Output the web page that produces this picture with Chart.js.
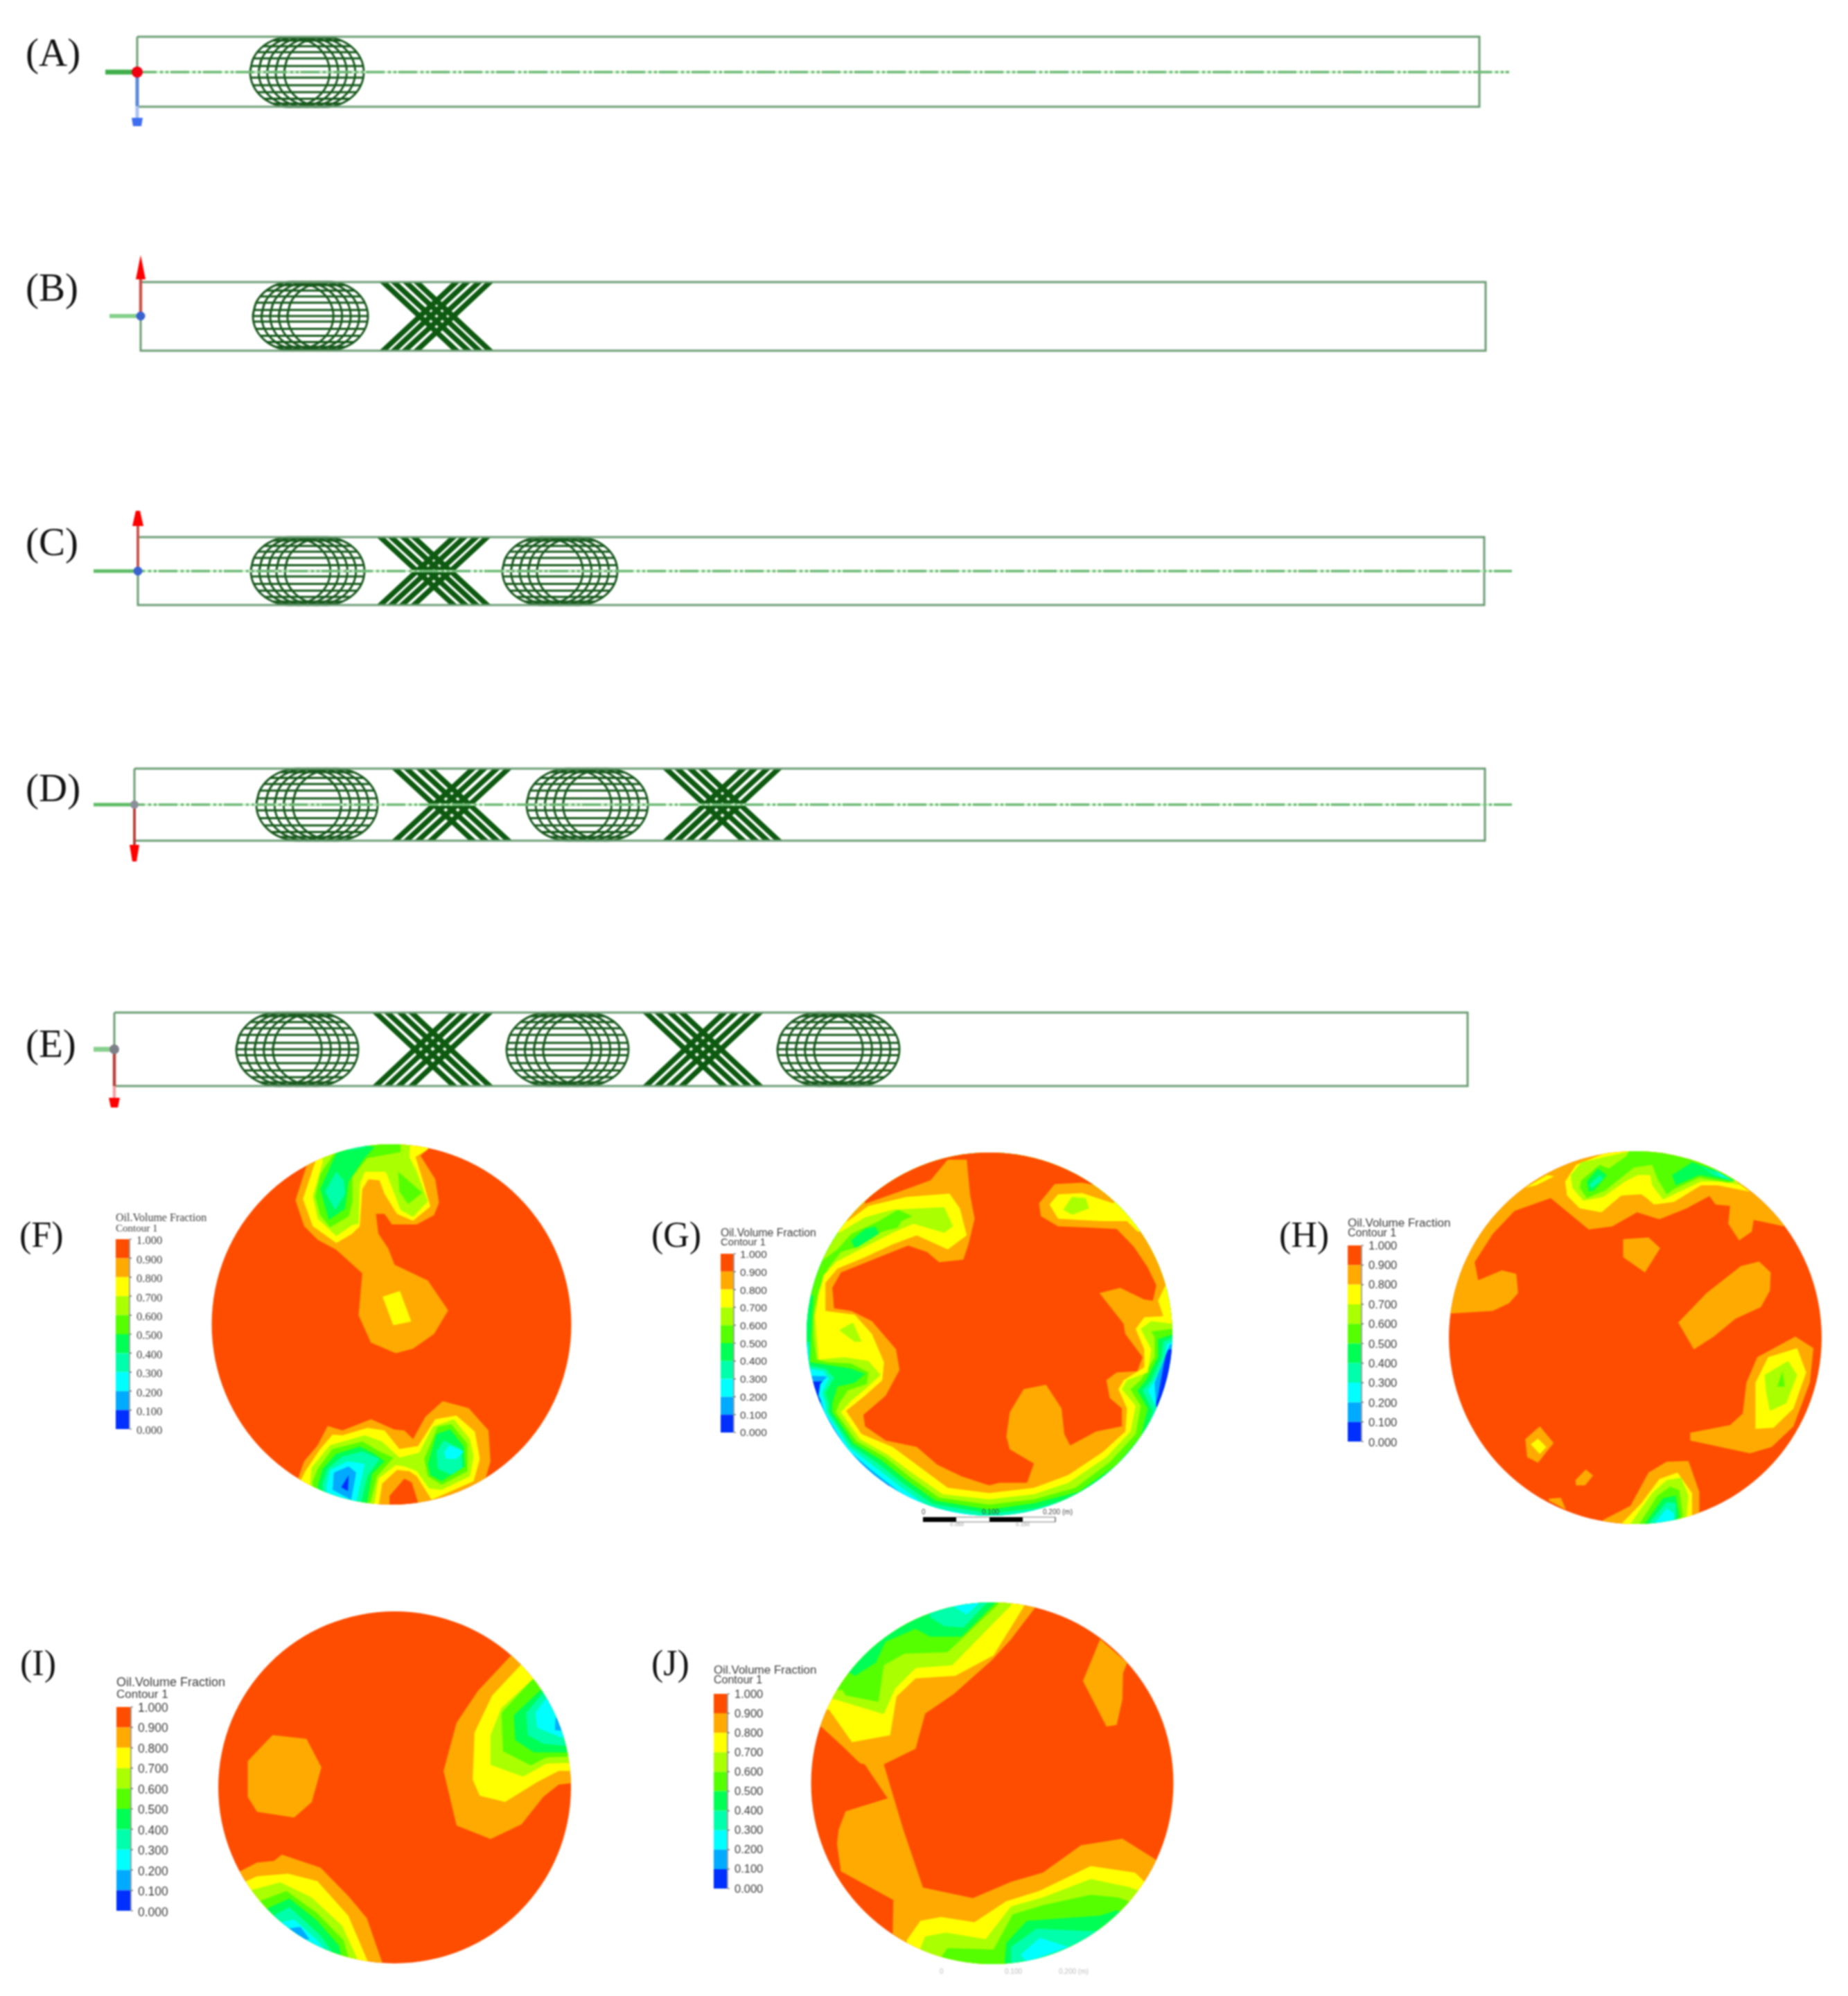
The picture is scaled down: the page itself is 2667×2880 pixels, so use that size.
<!DOCTYPE html>
<html><head><meta charset="utf-8">
<style>html,body{margin:0;padding:0;background:#fff}canvas{display:block;filter:blur(0.8px)}</style>
<script src="https://cdn.jsdelivr.net/npm/chart.js@4/dist/chart.umd.js"></script>
</head><body><canvas id="c" width="2667" height="2880"></canvas>
<script>
// ---------- data ----------
const bandColors=['#ff4d00','#ffaa00','#ffff00','#aaff00','#55ff00','#00ff55','#00ffaa','#00ffff','#00aaff','#0030ff'];
const tickLabels=['1.000','0.900','0.800','0.700','0.600','0.500','0.400','0.300','0.200','0.100','0.000'];
const legendTitle='Oil.Volume Fraction', legendSub='Contour 1';

// pipes: left,right,top,bottom,centre
const pipeA=[198,2135,53,154,104], pipeB=[203,2144,407,506,456], pipeC=[199,2142,775,873,824], pipeD=[194,2143,1109,1213,1161], pipeE=[165,2118,1461,1567,1514];
// mixers: [left,right] on each pipe
const ringsA=[[361,525]], ringsB=[[365,531]], ringsC=[[362,526],[725,891]], ringsD=[[370,545],[760,935]], ringsE=[[341,517],[731,907],[1122,1298]];
const crossB=[[548,712]], crossC=[[544,708]], crossD=[[565,739],[956,1129]], crossE=[[537,712],[927,1102]];
const centreLines=[[152,2178,104],[135,2182,824],[135,2182,1161]];
// ring outline and lattice proportions
const UNIT_RING=[[-1,0],[-.924,-.383],[-.707,-.707],[-.383,-.924],[0,-1],[.383,-.924],[.707,-.707],[.924,-.383],[1,0],[.924,.383],[.707,.707],[.383,.924],[0,1],[-.383,.924],[-.707,.707],[-.924,.383],[-1,0],[-.924,-.383]];
const ringShifts=[-.3,-.15,0,.15,.3], ringSpan=.7;
const chordRows=[[-.9,.605],[-.74,.77],[-.57,.875],[-.39,.945],[-.175,.99],[0,1],[.16,.99],[.375,.95],[.575,.875],[.76,.76],[.9,.605]];
const crossTop=[.03,.125,.23,.325], crossBottom=[.676,.78,.876,.97];

// contour panels: ellipse
const panelF={cx:565,cy:1911,rx:259.5,ry:260}, panelG={cx:1428,cy:1925,rx:264,ry:262}, panelH={cx:2360,cy:1930,rx:269,ry:269}, panelI={cx:569.5,cy:2579,rx:254.5,ry:254}, panelJ={cx:1432,cy:2573,rx:261.5,ry:261};
// reading frames of the contour outlines
const frameF=[280,1630,2.8,2.8], frameG=[930,1640,2.01,2.703], frameH=[1830,1640,1.912,2.703], frameI=[150,2300,2.24,2.8], frameJ=[1000,2290,2.178,2.658];
// band index (0 = 0.9-1.0 ... 9 = 0-0.1), outline
const regionsF=[[0,[]],
[1,[455,145,410,285,445,390,500,445,575,485,680,580,665,750,715,860,815,903,885,885,970,825,1027,730,945,610,810,545,785,480,745,420,735,340,770,340,800,383,900,383,970,345,990,295,975,200,915,105,950,75,950,20,455,20]],
[1,[420,1410,445,1340,500,1275,540,1197,600,1215,715,1170,810,1212,850,1215,885,1250,935,1160,1005,1097,1110,1125,1190,1215,1198,1340,1175,1420,1150,1520,420,1520]],
[2,[490,130,440,280,480,390,575,458,640,420,670,390,680,240,705,200,750,205,770,260,820,340,885,368,955,310,920,190,895,110,945,80,945,30,490,30]],
[2,[762,675,832,652,878,775,805,790]],
[2,[430,1420,450,1380,510,1290,560,1232,600,1235,700,1205,770,1215,830,1290,905,1278,975,1170,1060,1155,1135,1220,1155,1330,1130,1420,960,1495,900,1400,870,1380,820,1375,760,1430,745,1530,430,1530]],
[0,[790,1480,850,1410,880,1425,905,1505,905,1530,790,1530]],
[3,[520,130,480,270,500,360,575,430,640,385,665,380,670,220,690,170,775,170,810,260,835,325,885,352,945,290,900,170,870,110,875,40,520,40]],
[3,[470,1420,475,1365,550,1275,690,1235,760,1260,830,1325,910,1305,965,1200,1050,1170,1115,1250,1130,1320,1115,1400,1000,1455,950,1450,900,1380,850,1360,815,1355,745,1410,725,1530,470,1530]],
[4,[570,90,510,180,490,270,510,345,550,395,625,350,640,290,640,190,700,115,835,90,835,40,570,40]],
[4,[825,170,922,255,865,300,830,250]],
[4,[480,1420,500,1370,560,1290,680,1260,750,1300,805,1325,740,1400,705,1530,480,1530]],
[4,[930,1330,985,1200,1040,1190,1105,1270,1105,1380,1000,1435,945,1400]],
[5,[575,95,510,240,545,365,610,320,625,210,685,120,730,70,600,40]],
[5,[500,1440,520,1370,575,1310,670,1280,730,1310,770,1340,720,1390,695,1530,500,1530]],
[5,[945,1350,980,1230,1035,1210,1090,1280,1095,1360,1000,1420,955,1395]],
[6,[575,170,530,250,570,325,610,260,605,205]],
[6,[640,30,760,30,690,72,620,85]],
[6,[520,1430,540,1370,600,1320,680,1300,750,1330,700,1400,670,1530,520,1530]],
[6,[980,1300,1010,1255,1080,1290,1085,1365,1040,1395,985,1370]],
[7,[535,1440,550,1375,620,1340,690,1350,650,1530,535,1530]],
[7,[1010,1305,1030,1275,1090,1300,1060,1330,1020,1330]],
[8,[565,1385,625,1360,655,1385,635,1495,560,1455]],
[9,[595,1445,625,1395,622,1460]]];
const regionsG=[[8,[]],
[9,[470,955,525,955,510,1040,440,1040]],
[9,[585,1240,650,1315,710,1360,700,1400,560,1300]],
[9,[1515,830,1560,830,1560,950,1465,1130,1490,1010]],
[7,[420,930,530,935,510,965,505,1010,515,1040,522,1075,588,1220,658,1300,732,1378,815,1455,830,1520,1300,1520,1450,1360,1470,1180,1485,1060,1480,960,1510,860,1525,810,1600,810,1600,0,420,0]],
[6,[420,815,475,815,478,905,520,915,535,945,515,1000,525,1040,528,1075,594,1212,668,1288,742,1365,825,1445,1000,1485,1130,1470,1280,1420,1400,1310,1460,1210,1490,1070,1460,990,1485,940,1510,860,1515,810,1540,795,1600,795,1600,0,420,0]],
[5,[420,800,480,800,480,895,525,905,550,940,525,1000,535,1040,535,1075,600,1205,678,1275,750,1352,835,1432,1000,1470,1130,1450,1270,1400,1385,1295,1450,1190,1475,1070,1445,990,1470,950,1500,860,1505,800,1540,780,1600,780,1600,0,420,0]],
[4,[430,600,490,620,485,750,480,880,530,890,600,905,640,925,610,960,560,975,545,1040,545,1075,607,1196,688,1262,760,1340,845,1420,1000,1455,1130,1430,1260,1385,1370,1280,1440,1170,1460,1060,1430,990,1455,950,1490,860,1490,790,1535,770,1600,770,1600,0,430,0]],
[5,[600,405,640,360,670,350,690,405,610,435]],
[3,[440,480,510,490,560,440,600,380,680,330,735,285,777,310,745,330,735,355,690,370,620,430,570,450,535,510,505,600,490,700,490,780,500,870,530,880,600,885,650,920,645,965,590,990,565,1040,555,1075,615,1188,698,1250,770,1328,855,1408,1000,1435,1130,1415,1250,1370,1350,1270,1425,1160,1440,1050,1410,985,1440,950,1480,860,1480,780,1470,760,1530,750,1600,750,1600,0,440,0]],
[2,[450,350,565,375,640,315,720,285,870,275,895,350,870,375,780,340,720,375,625,440,555,490,520,540,505,620,495,700,505,870,580,860,650,875,685,930,640,985,600,1030,570,1075,625,1180,705,1240,780,1315,865,1395,1000,1415,1130,1395,1230,1350,1340,1250,1410,1150,1425,1050,1385,985,1400,950,1460,920,1470,830,1440,750,1470,720,1530,730,1600,730,1600,0,450,0]],
[3,[565,755,605,725,630,800,610,800]],
[3,[1215,285,1240,235,1280,240,1290,280,1240,305]],
[1,[590,330,650,270,760,235,885,222,915,280,935,385,880,440,790,385,720,420,640,470,560,515,525,570,525,680,610,695,660,770,695,880,690,950,640,1010,585,1070,630,1160,720,1210,800,1290,880,1370,1000,1390,1130,1370,1230,1320,1330,1230,1395,1150,1400,1060,1375,985,1390,950,1450,900,1450,830,1425,750,1450,705,1505,700,1490,640,1515,570,1600,570,1600,380,1430,370,1400,330,1330,330,1260,325,1200,320,1175,265,1200,225,1270,220,1360,260,1400,200,1400,0,500,0,500,300]],
[0,[640,262,760,205,830,170,880,90,935,90,945,230,958,320,940,420,925,480,855,490,820,450,765,425,690,465,570,530,545,590,550,670,600,680,660,720,730,830,740,910,700,1010,635,1085,640,1130,700,1185,790,1210,850,1280,920,1325,1000,1360,1030,1350,1110,1350,1130,1275,1060,1220,1050,1170,1060,1075,1100,985,1165,968,1210,1060,1218,1160,1235,1205,1310,1150,1385,1130,1385,1060,1350,1020,1340,950,1370,920,1430,915,1445,860,1395,770,1390,730,1320,610,1380,590,1450,635,1475,640,1485,580,1460,510,1420,430,1370,360,1290,355,1200,350,1150,310,1145,260,1190,185,1270,180,1310,190,1300,20,640,20]]];
const regionsH=[[0,[]],
[1,[505,690,620,680,665,650,690,610,685,535,645,522,580,560,570,490,620,380,680,290,780,240,885,362,950,350,1018,295,1080,322,1155,280,1218,232,1235,265,1275,270,1270,340,1300,405,1335,370,1340,325,1425,350,1500,300,1300,0,800,0,400,300,400,690]],
[1,[980,400,1050,393,1082,435,1040,530,980,470]],
[1,[1132,725,1210,610,1305,505,1355,487,1387,530,1385,600,1360,665,1290,710,1230,780,1175,830]],
[1,[1165,1155,1275,1125,1310,1080,1320,960,1350,860,1455,780,1505,825,1495,960,1450,1130,1390,1210,1330,1235,1165,1185]],
[1,[710,1180,750,1130,788,1195,745,1272,715,1250]],
[1,[848,1340,877,1298,897,1322,875,1360,850,1360]],
[1,[775,1412,808,1408,822,1455,775,1420]],
[1,[925,1495,1000,1440,1050,1310,1100,1268,1160,1265,1190,1385,1190,1470,1100,1560,925,1560]],
[2,[820,175,850,110,990,30,1180,30,1300,185,1330,215,1240,190,1195,190,1120,255,1065,265,1045,240,1030,225,975,230,920,295,860,280,825,230]],
[2,[710,200,770,150,790,155,740,190]],
[2,[1345,1140,1345,960,1380,860,1460,825,1485,920,1450,1060,1395,1135]],
[2,[725,1200,745,1178,768,1210,750,1238]],
[2,[975,1510,1030,1430,1080,1335,1130,1310,1170,1390,1170,1480,1100,1560,975,1560]],
[3,[835,150,865,100,990,60,1165,100,1310,190,1250,175,1195,175,1120,225,1090,245,1060,190,1055,150,1020,150,985,175,925,235,870,250,840,200]],
[3,[1370,930,1435,875,1460,930,1430,1040,1385,1070,1375,1000]],
[3,[1000,1510,1060,1390,1100,1340,1140,1330,1160,1400,1155,1480,1100,1560,1000,1560]],
[4,[865,170,915,110,940,125,990,75,1000,40,1170,40,1290,170,1270,180,1190,160,1120,205,1100,225,1075,165,1060,110,1010,120,930,210,880,240,860,200]],
[4,[1405,975,1420,915,1425,975]],
[4,[1025,1510,1075,1400,1110,1365,1135,1380,1145,1480,1100,1560,1025,1560]],
[5,[880,175,910,125,935,150,900,210,885,215]],
[5,[1115,150,1170,100,1230,130,1290,175,1190,150,1125,190]],
[5,[1040,1510,1090,1410,1125,1400,1135,1480,1100,1560,1040,1560]],
[6,[885,190,915,150,925,165,895,200]],
[6,[1190,110,1285,175,1230,150]],
[6,[1055,1500,1100,1425,1125,1430,1125,1560,1055,1560]],
[7,[1225,125,1280,170,1250,155]],
[7,[1065,1510,1100,1450,1120,1470,1120,1560,1065,1560]]];
const regionsI=[[0,[]],
[1,[1315,250,1210,390,1140,520,1098,715,1140,935,1250,990,1350,930,1420,820,1470,770,1530,762,1600,762,1600,250,1350,200]],
[1,[545,570,655,585,703,700,672,840,615,903,495,880,465,820,465,675]],
[1,[440,1120,495,1085,550,1078,575,1053,700,1105,790,1220,850,1310,900,1490,900,1560,800,1560,300,1300]],
[2,[1345,290,1255,410,1198,560,1192,750,1215,815,1297,840,1400,760,1470,715,1550,715,1550,200,1400,200]],
[2,[460,1160,495,1140,595,1130,690,1160,790,1300,855,1490,855,1560,700,1560,350,1300]],
[3,[1385,345,1285,460,1250,570,1250,690,1355,738,1430,685,1550,680,1550,300]],
[3,[480,1195,570,1165,670,1225,770,1340,825,1490,825,1560,700,1560,350,1300]],
[4,[1385,345,1285,480,1290,635,1380,692,1430,660,1550,655,1550,300]],
[4,[505,1240,590,1200,690,1290,775,1400,795,1490,795,1560,600,1560,400,1300]],
[5,[1410,390,1325,490,1330,590,1390,640,1550,640,1550,300]],
[5,[520,1275,600,1230,690,1320,760,1420,770,1480,770,1560,600,1560,400,1320]],
[6,[1420,400,1365,480,1370,570,1420,605,1550,620,1550,300]],
[6,[545,1300,600,1265,700,1380,740,1450,730,1560,600,1560,450,1350]],
[7,[1430,420,1395,480,1400,540,1480,580,1550,590,1550,300]],
[7,[575,1325,615,1315,690,1400,720,1445,650,1560,500,1400]],
[8,[1460,500,1458,550,1490,552,1550,550,1550,480]],
[8,[600,1350,635,1345,665,1395,550,1400]]];
const regionsJ=[[0,[]],
[1,[403,535,470,610,525,675,540,680,612,810,480,860,458,930,453,985,465,1090,630,1200,628,1330,672,1370,700,1600,1500,1600,1455,1045,1350,965,1220,990,1100,1095,1000,1130,880,1193,723,1152,660,925,600,680,700,620,730,485,820,410,940,280,1000,200,1075,80,1100,0,300,0,300,535]],
[1,[1280,200,1365,290,1352,330,1350,430,1332,528,1300,535,1226,360]],
[2,[428,470,500,595,620,568,640,420,700,350,825,340,945,262,1040,75,1040,0,300,0,300,470]],
[2,[672,1355,715,1280,780,1265,885,1285,985,1205,1090,1165,1250,1070,1390,1095,1420,1130,1600,1200,1500,1600,700,1600]],
[3,[445,430,600,487,635,390,700,310,815,300,1000,70,1000,0,300,0,300,420]],
[3,[715,1385,730,1340,795,1325,920,1350,1000,1225,1100,1190,1250,1120,1370,1150,1600,1250,1500,1600,800,1600]],
[4,[470,395,480,415,583,440,600,300,665,255,800,250,960,65,960,0,300,0,300,395]],
[4,[780,1420,800,1385,945,1390,1005,1255,1100,1220,1250,1180,1335,1190,1600,1300,1500,1600,850,1600]],
[5,[495,330,510,340,575,290,605,210,700,160,745,190,845,190,950,62,950,0,300,0,300,330]],
[5,[980,1440,985,1365,1050,1280,1280,1260,1330,1240,1600,1300,1500,1600,980,1600]],
[6,[745,115,790,150,850,155,925,60,925,0,740,0]],
[6,[1000,1380,1080,1310,1250,1320,1400,1300,1500,1600,1000,1600]],
[7,[820,75,860,105,900,62,900,0,820,0]],
[7,[1030,1410,1090,1345,1180,1380,1090,1420,1050,1440]]];

// ---------- layout ----------
const panelLabels=[['(A)',37,80,57],['(B)',37,419,57],['(C)',37,786,57],['(D)',37,1141,57],['(E)',37,1510,57],['(F)',28,1785,52],['(G)',940,1785,52],['(H)',1846,1785,52],['(I)',29,2403,52],['(J)',940,2403,52]];
// x, titleY, subY, barRight, barTop, barBottom, tickX, tickTopY, tickBottomY, titleSize, tickSize, family
const legendF=[167,1758,1773,187,1788,2062,197,1791,2065,16,16.5,'"Liberation Serif"'];
const legendG=[1040,1780,1793,1059,1809,2067,1068,1811,2068,15.8,15.5,'"Liberation Sans"'];
const legendH=[1945,1765,1780,1965,1797,2080,1975,1798,2082,17,16.5,'"Liberation Sans"'];
const legendI=[168,2428,2445,189,2463,2757,199,2465,2760,18,17.5,'"Liberation Sans"'];
const legendJ=[1030,2410,2425,1050,2444,2725,1060,2445,2726,17,16.5,'"Liberation Sans"'];
const scaleBarG=[1332,1380,1428,1476,1523,2189,2196];

// ---------- build datasets ----------
const xy=(x,y)=>({x,y}), gap=()=>({x:null,y:null});
const sets=[];
function poly(points,color,panel){sets.push({data:points,borderColor:'rgba(0,0,0,0)',borderWidth:0,backgroundColor:color,fill:'shape',pointRadius:0,tension:0,clipPanel:panel||null});}
function stroke(points,color,width,opts){sets.push(Object.assign({data:points,borderColor:color,borderWidth:width,pointRadius:0,fill:false,tension:0,spanGaps:false},opts||{}));}
function flat(f,frame){const p=[];for(let i=0;i<f.length;i+=2)p.push(xy(frame[0]+f[i]/frame[2],frame[1]+f[i+1]/frame[3]));return p;}

function pipe(p){const[l,r,t,b]=p;stroke([xy(l,t),xy(r,t),xy(r,b),xy(l,b),xy(l,t)],'#6b9c74',3);}
function rings(list,p){const[, ,t,b,c]=p;const pts=[],ch=[];
 list.forEach(([l,r])=>{const m=(l+r)/2,h=(r-l)/2,v=(b-t)/2;
  ringShifts.forEach(s=>{UNIT_RING.forEach(u=>pts.push(xy(m+s*h+u[0]*h*ringSpan,c+u[1]*v)));pts.push(gap());});
  chordRows.forEach(([f,hw])=>{ch.push(xy(m-hw*h,c+f*v),xy(m+hw*h,c+f*v),gap());});});
 stroke(pts,'#1c5c21',3,{tension:.34});stroke(ch,'#175a1c',3);}
function cross(list,p){const[, ,t,b]=p;
 list.forEach(([l,r])=>{const w=r-l;
  crossTop.forEach((ft,i)=>{const a=l+ft*w,z=l+crossBottom[i]*w,k=5.6;
   poly([xy(a-k,t),xy(a+k,t),xy(z+k,b),xy(z-k,b)],'#0d5a10');
   poly([xy(r-ft*w-k,t),xy(r-ft*w+k,t),xy(r-crossBottom[i]*w+k,b),xy(r-crossBottom[i]*w-k,b)],'#0d5a10');});});}
[[pipeA,ringsA,[]],[pipeB,ringsB,crossB],[pipeC,ringsC,crossC],[pipeD,ringsD,crossD],[pipeE,ringsE,crossE]].forEach(([p,r,x])=>{rings(r,p);cross(x,p);pipe(p);});
centreLines.forEach(([a,b,y])=>{stroke([xy(a,y),xy(b,y)],'#c9f0c9',3);stroke([xy(a,y),xy(b,y)],'#6cb974',3.5,{borderDash:[27,5,4,4,4,3]});});

// triads: stem lines, arrow heads, origin dots
stroke([xy(152,104),xy(198,104)],'#3fae4a',7);
stroke([xy(198,104),xy(198,153)],'#5c86d6',5);stroke([xy(198,153),xy(198,170)],'#a9c2f5',5);
poly([xy(190,170),xy(206,170),xy(204,182),xy(192,182)],'#3f6ff0');
stroke([xy(158,456),xy(203,456)],'#86cf8c',6);
stroke([xy(203,456),xy(203,403)],'#c9534a',4.5);poly([xy(196,403),xy(210,403),xy(203,368)],'#ff0000');
stroke([xy(135,824),xy(199,824)],'#5cbb62',5);
stroke([xy(199,824),xy(199,759)],'#c9534a',4);poly([xy(191,759),xy(207,759),xy(202,737),xy(196,737)],'#ff0000');
stroke([xy(135,1161),xy(194,1161)],'#5cbb62',5);
stroke([xy(194,1161),xy(194,1219)],'#b8403a',4);poly([xy(187,1219),xy(201,1219),xy(197,1243),xy(191,1243)],'#ff0000');
stroke([xy(135,1514),xy(165,1514)],'#86cf8c',7);
stroke([xy(165,1514),xy(165,1567)],'#b8403a',4.5);stroke([xy(165,1567),xy(165,1584)],'#f5a0a0',4.5);
poly([xy(157,1584),xy(173,1584),xy(170,1598),xy(160,1598)],'#ff0000');
const dot=(x,y,c,r)=>sets.push({data:[xy(x,y)],showLine:false,pointRadius:r,pointBackgroundColor:c,pointBorderWidth:0,pointBorderColor:c,borderWidth:0,fill:false});
dot(198,104,'#f00010',8);dot(203,456,'#3a63d0',6.5);dot(199,824,'#3a63d0',6.5);dot(194,1161,'#8a8f9a',6);dot(165,1514,'#7d8088',7);

// contour panels
[[panelF,frameF,regionsF],[panelG,frameG,regionsG],[panelH,frameH,regionsH],[panelI,frameI,regionsI],[panelJ,frameJ,regionsJ]].forEach(([pn,fr,regs])=>{
 regs.forEach(([band,f])=>{
  const pts=f.length?flat(f,fr):[xy(pn.cx-pn.rx-2,pn.cy-pn.ry-2),xy(pn.cx+pn.rx+2,pn.cy-pn.ry-2),xy(pn.cx+pn.rx+2,pn.cy+pn.ry+2),xy(pn.cx-pn.rx-2,pn.cy+pn.ry+2)];
  poly(pts,bandColors[band],pn);});});

// legends: colour bars and tick marks
[legendF,legendG,legendH,legendI,legendJ].forEach(L=>{const[x,, ,xr,top,bot,,ty0,ty1]=L;
 bandColors.forEach((c,i)=>{const a=top+(bot-top)*i/10,z=top+(bot-top)*(i+1)/10;poly([xy(x,a),xy(xr,a),xy(xr,z),xy(x,z)],c);});
 stroke([xy(xr,top),xy(xr,bot)],'#9a9a9a',1);
 const t=[];tickLabels.forEach((_,i)=>{const y=top+(bot-top)*i/10;t.push(xy(xr,y),xy(xr+3,y),gap());});stroke(t,'#555',1.2);});

// scale bar of panel G
{const[a,b,c,d,e,t,z]=scaleBarG;
 poly([xy(a,t),xy(b,t),xy(b,z),xy(a,z)],'#000');poly([xy(c,t),xy(d,t),xy(d,z),xy(c,z)],'#000');
 stroke([xy(b,t),xy(c,t),gap(),xy(b,z),xy(c,z),gap(),xy(d,t),xy(e,t),xy(e,z),xy(d,z)],'#777',1);}

sets.forEach((s,i)=>{s.type='line';s.order=-i;});

// ---------- plugins ----------
const ringClip={id:'ringClip',
 beforeDatasetDraw(chart,args){const ds=chart.data.datasets[args.index];if(!ds.clipPanel)return;
  const{x,y}=chart.scales,p=ds.clipPanel,ctx=chart.ctx;ctx.save();ctx.beginPath();
  ctx.ellipse(x.getPixelForValue(p.cx),y.getPixelForValue(p.cy),Math.abs(x.getPixelForValue(p.cx+p.rx)-x.getPixelForValue(p.cx)),Math.abs(y.getPixelForValue(p.cy+p.ry)-y.getPixelForValue(p.cy)),0,0,Math.PI*2);ctx.clip();},
 afterDatasetDraw(chart,args){if(chart.data.datasets[args.index].clipPanel)chart.ctx.restore();}};
const textLayer={id:'textLayer',afterDraw(chart){const{x,y}=chart.scales,ctx=chart.ctx;ctx.save();ctx.textBaseline='middle';ctx.textAlign='left';
 const put=(s,px,py,font,col)=>{ctx.font=font;ctx.fillStyle=col;ctx.fillText(s,x.getPixelForValue(px),y.getPixelForValue(py));};
 panelLabels.forEach(([s,px,py,sz])=>put(s,px,py,sz+'px "Liberation Serif"','#111'));
 [legendF,legendG,legendH,legendI,legendJ].forEach(L=>{const[lx,ty,sy,,,,tx,t0,t1,ts,ks,fam]=L;
  put(legendTitle,lx,ty,ts+'px '+fam,'#3c3c3c');put(legendSub,lx,sy,(ts-1)+'px '+fam,'#3c3c3c');
  tickLabels.forEach((s,i)=>put(s,tx,t0+(t1-t0)*i/10,ks+'px '+fam,'#3c3c3c'));});
 const sb='10px "Liberation Sans"';
 put('0',1330,2182,sb,'#444');put('0.100',1417,2182,sb,'#444');put('0.200',1505,2182,sb,'#444');put('(m)',1533,2182,sb,'#444');
 put('0.050',1371,2200,'8px "Liberation Sans"','#999');put('0.150',1466,2200,'8px "Liberation Sans"','#999');
 put('0',1356,2845,sb,'#bbb');put('0.100',1450,2845,sb,'#bbb');put('0.200 (m)',1528,2845,sb,'#bbb');
 ctx.restore();}};
const filler=Chart.registry.getPlugin('filler');
Chart.unregister(filler);Chart.register(ringClip,filler);

new Chart(document.getElementById('c'),{type:'line',data:{datasets:sets},plugins:[textLayer],
 options:{responsive:false,animation:false,devicePixelRatio:1,parsing:true,normalized:false,
  layout:{padding:0,autoPadding:false},
  elements:{line:{capBezierPoints:false,borderJoinStyle:'miter'}},
  plugins:{legend:{display:false},tooltip:{enabled:false},title:{display:false}},
  events:[],
  scales:{x:{type:'linear',min:0,max:2667,display:false},y:{type:'linear',min:0,max:2880,reverse:true,display:false}}}});
</script></body></html>
